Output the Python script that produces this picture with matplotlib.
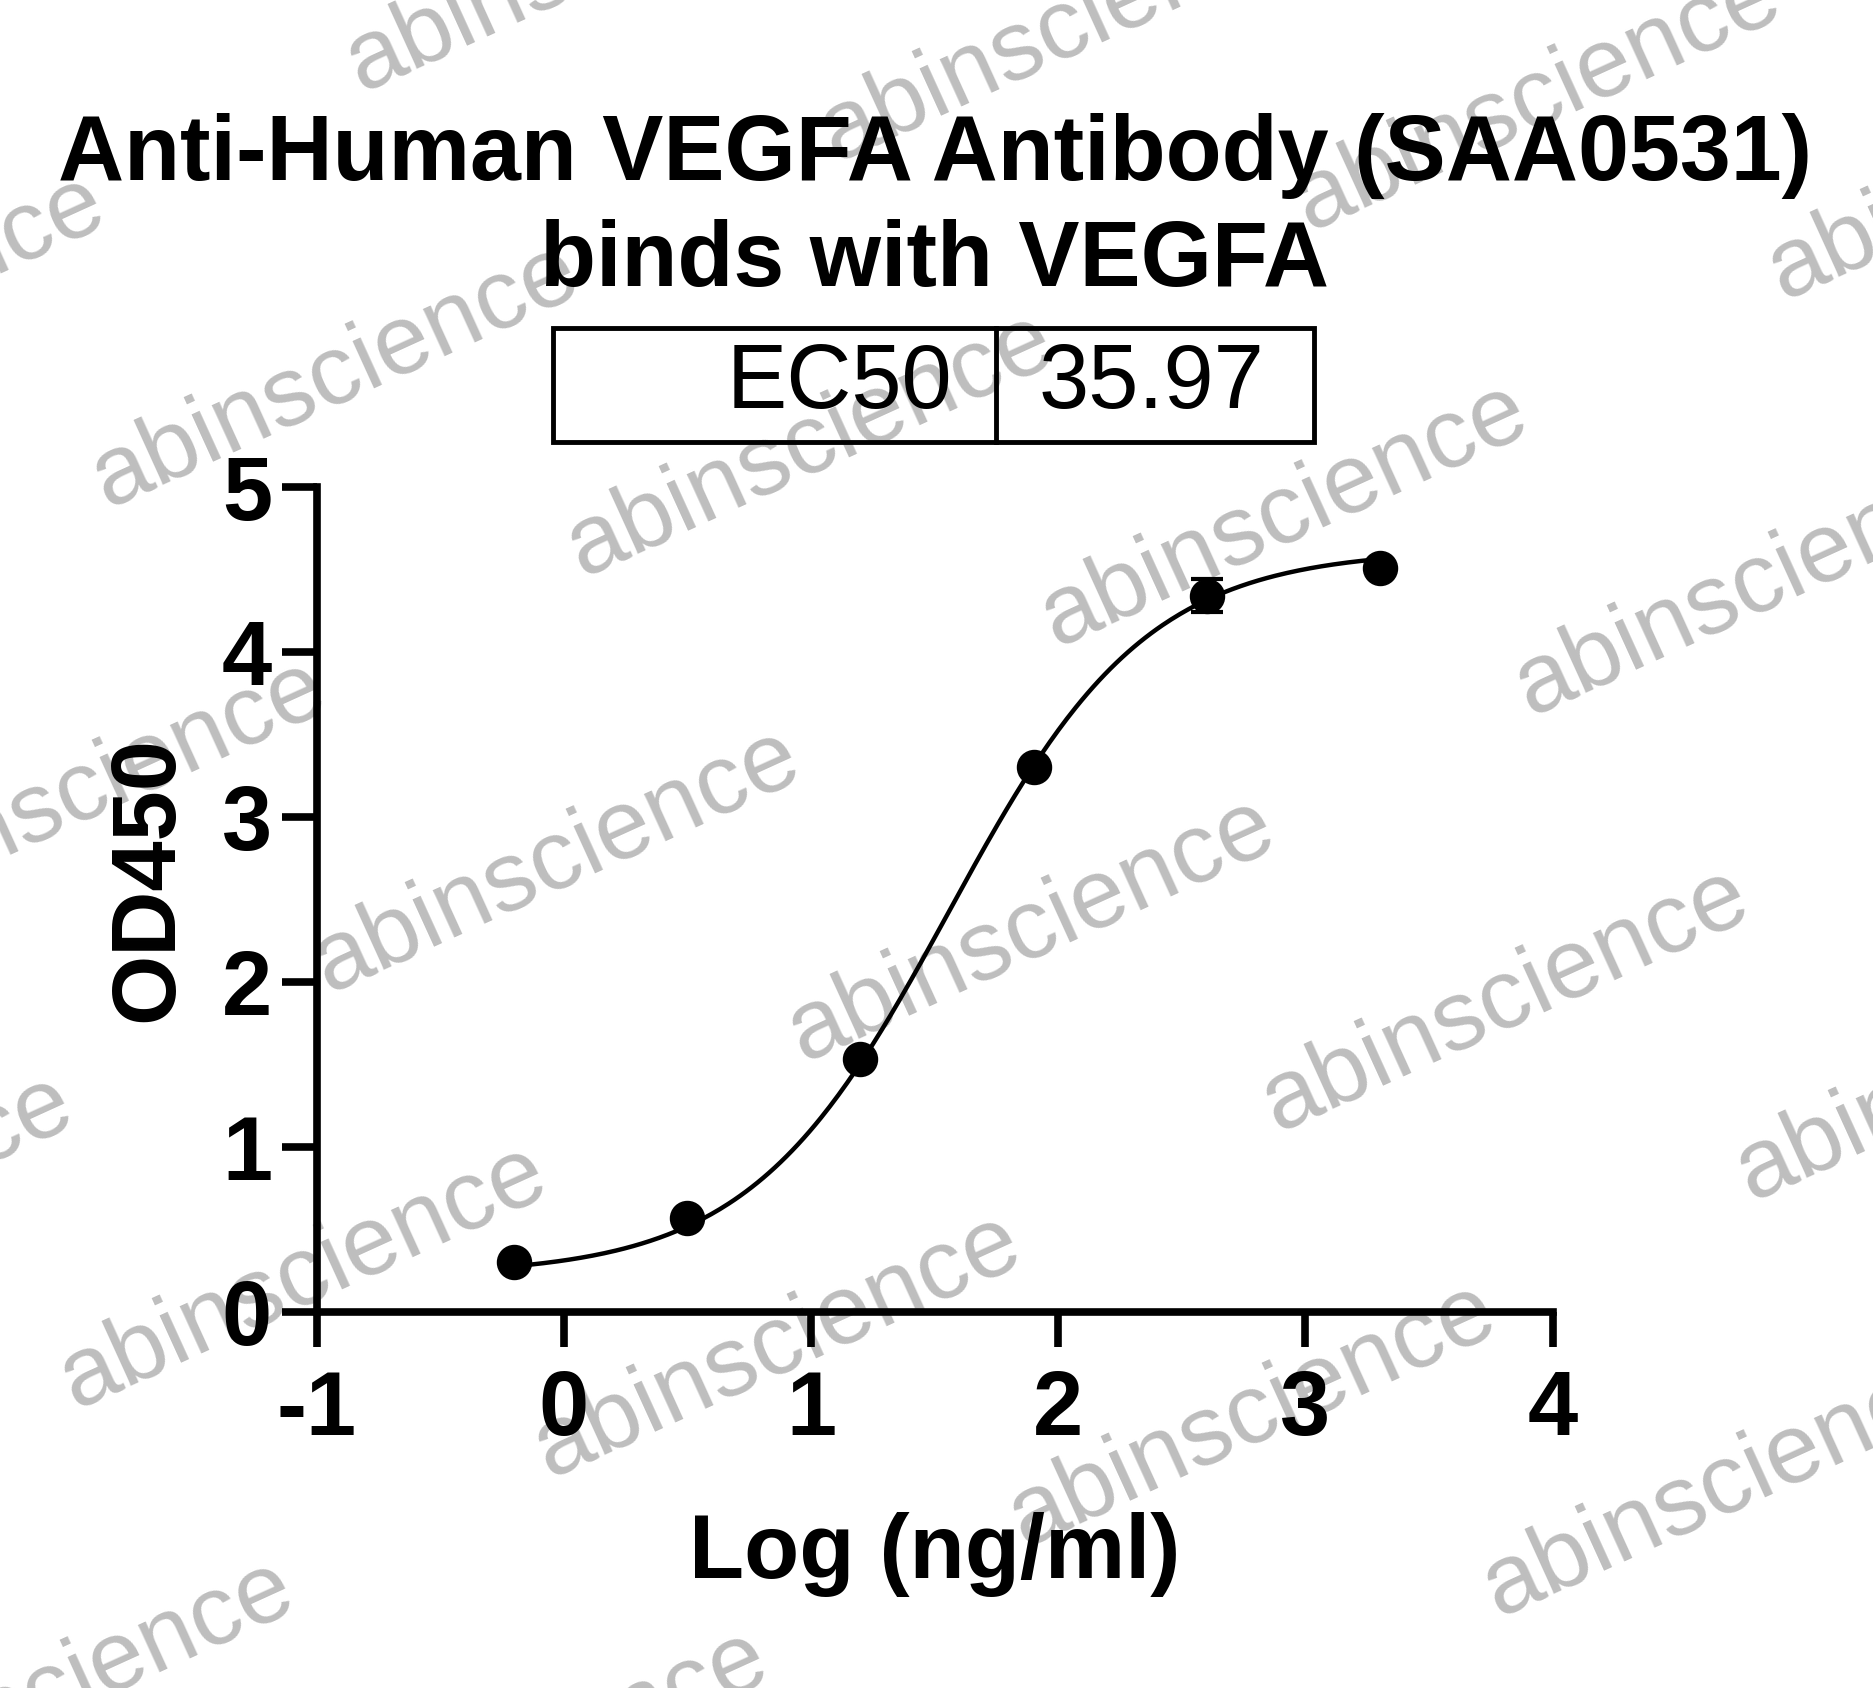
import numpy as np
import matplotlib
matplotlib.use("Agg")
import matplotlib.pyplot as plt
from matplotlib.patches import Rectangle

plt.rcParams['font.family'] = ['Liberation Sans', 'DejaVu Sans']
plt.rcParams['axes.unicode_minus'] = False

# data
log_conc = [-0.2, 0.5, 1.2, 1.9, 2.6, 3.3]
od450 = [0.30, 0.57, 1.53, 3.30, 4.34, 4.51]
od_err = [0.0, 0.0, 0.0, 0.0, 0.10, 0.0]
xticks = [-1, 0, 1, 2, 3, 4]
yticks = [0, 1, 2, 3, 4, 5]

# 4PL fit parameters
ec50 = 35.97
fit_bottom = 0.22
fit_top = 4.62
fit_hill = 1.08

W, H = 1873, 1688
fig = plt.figure(figsize=(W / 100, H / 100), dpi=100)

# watermark layer behind everything
bg = fig.add_axes([0, 0, 1, 1], zorder=-1)
bg.set_xlim(0, W)
bg.set_ylim(H, 0)
bg.axis('off')
ox, oy = 107.5, 507.7
ax_step = (474.2, 69.3)
row_step = (-253.2, 415.7)
for r in range(-2, 6):
    for c in range(-3, 6):
        x = ox + c * ax_step[0] + r * row_step[0]
        y = oy + c * ax_step[1] + r * row_step[1]
        if -700 < x < W + 50 and -50 < y < H + 400:
            bg.text(x, y, "abinscience", fontsize=71.5, color='#bebebe',
                    rotation=24.5, rotation_mode='anchor',
                    ha='left', va='baseline')

ax = fig.add_axes([0.169, 0.223, 0.660, 0.4885])
ax.set_facecolor('none')

xs = np.linspace(min(log_conc), max(log_conc), 300)
ys = fit_bottom + (fit_top - fit_bottom) / (1 + 10 ** ((np.log10(ec50) - xs) * fit_hill))
ax.plot(xs, ys, color='black', lw=3.2, zorder=2)
ax.errorbar(log_conc, od450, yerr=od_err, fmt='none', ecolor='black',
            elinewidth=3, capsize=11.5, capthick=3, zorder=3)
ax.plot(log_conc, od450, 'o', color='black', markersize=24.5, zorder=4)

ax.set_xlim(-1, 4)
ax.set_ylim(0, 5)
ax.set_xticks(xticks)
ax.set_yticks(yticks)
for s in ['top', 'right']:
    ax.spines[s].set_visible(False)
for s in ['left', 'bottom']:
    ax.spines[s].set_linewidth(5.5)
ax.tick_params(axis='both', width=5.5, length=25, labelsize=65)
ax.tick_params(axis='x', pad=16)
ax.tick_params(axis='y', pad=7)
for lab in ax.get_xticklabels() + ax.get_yticklabels():
    lab.set_fontweight('bold')

ax.set_xlabel("Log (ng/ml)", fontsize=65, fontweight='bold')
ax.set_ylabel("OD450", fontsize=65, fontweight='bold')
ax.xaxis.set_label_coords(0.5, -0.243)
ax.yaxis.set_label_coords(-0.1015, 0.525)

fig.text(0.499, 0.9075, "Anti-Human VEGFA Antibody (SAA0531)", fontsize=66,
         fontweight='bold', ha='center', va='center')
fig.text(0.499, 0.845, "binds with VEGFA", fontsize=66,
         fontweight='bold', ha='center', va='center')

# EC50 box
bx0, bx1, bdiv = 553 / W, 1314 / W, 996 / W
by0, by1 = 1 - 442 / H, 1 - 328 / H
fig.add_artist(Rectangle((bx0, by0), bx1 - bx0, by1 - by0, transform=fig.transFigure,
                         fill=False, lw=3.5, edgecolor='black'))
fig.add_artist(plt.Line2D([bdiv, bdiv], [by0, by1], transform=fig.transFigure,
                          color='black', lw=3.5))
fig.text(952 / W, (by0 + by1) / 2, "EC50", fontsize=65, ha='right', va='center')
fig.text(1039 / W, (by0 + by1) / 2, "%.2f" % ec50, fontsize=65, ha='left', va='center')

fig.savefig("out.png", dpi=100)
